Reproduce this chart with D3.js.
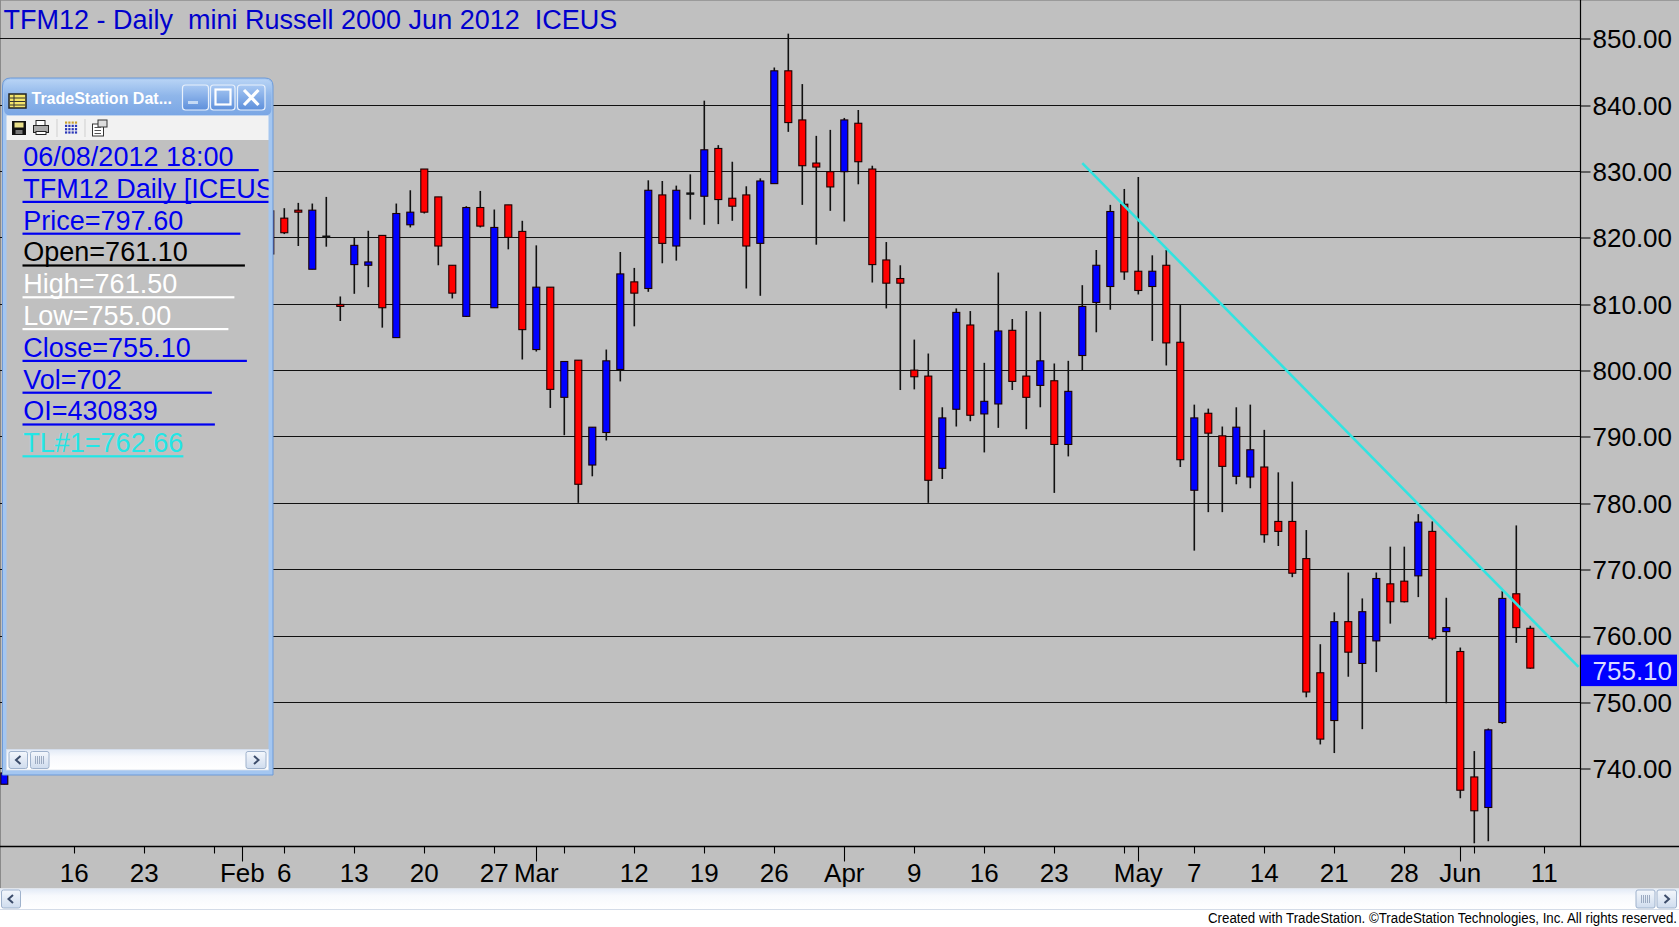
<!DOCTYPE html>
<html><head><meta charset="utf-8">
<script src="https://cdn.jsdelivr.net/npm/d3@7"></script>
<style>
html,body{margin:0;padding:0;background:#fff;overflow:hidden;}
text{font-family:"Liberation Sans",Arial,Helvetica,sans-serif;}
</style></head><body>
<svg id="chart" width="1679" height="927"></svg>
<script>
// ---------------- DATA ----------------
const titleText = "TFM12 - Daily  mini Russell 2000 Jun 2012  ICEUS";
const dates = ["2012-01-09","2012-02-03","2012-02-06","2012-02-07","2012-02-08","2012-02-09","2012-02-10",
"2012-02-13","2012-02-14","2012-02-15","2012-02-16","2012-02-17","2012-02-20","2012-02-21","2012-02-22","2012-02-23","2012-02-24",
"2012-02-27","2012-02-28","2012-02-29","2012-03-01","2012-03-02","2012-03-05","2012-03-06","2012-03-07","2012-03-08","2012-03-09",
"2012-03-12","2012-03-13","2012-03-14","2012-03-15","2012-03-16","2012-03-19","2012-03-20","2012-03-21","2012-03-22","2012-03-23",
"2012-03-26","2012-03-27","2012-03-28","2012-03-29","2012-03-30","2012-04-02","2012-04-03","2012-04-04","2012-04-05","2012-04-06",
"2012-04-09","2012-04-10","2012-04-11","2012-04-12","2012-04-13","2012-04-16","2012-04-17","2012-04-18","2012-04-19","2012-04-20",
"2012-04-23","2012-04-24","2012-04-25","2012-04-26","2012-04-27","2012-04-30","2012-05-01","2012-05-02","2012-05-03","2012-05-04",
"2012-05-07","2012-05-08","2012-05-09","2012-05-10","2012-05-11","2012-05-14","2012-05-15","2012-05-16","2012-05-17","2012-05-18",
"2012-05-21","2012-05-22","2012-05-23","2012-05-24","2012-05-25","2012-05-28","2012-05-29","2012-05-30","2012-05-31","2012-06-01",
"2012-06-04","2012-06-05","2012-06-06","2012-06-07","2012-06-08"];
const opens = [737.6,817.5,822.9,824.1,815.2,820.1,809.9,
815.9,815.8,820.3,804.9,821.9,830.3,826.1,815.8,808.1,824.5,
809.4,824.9,820.9,803.1,812.5,795.9,801.5,785.7,790.6,800.1,
813.3,812.3,826.4,818.7,826.6,826.2,833.4,825.9,826.4,819.1,
828.1,845.1,837.7,831.2,829.9,829.9,837.2,830.3,816.6,813.8,
800.0,799.1,785.2,794.1,806.8,793.4,794.9,806.0,799.1,797.7,
798.4,788.8,802.2,810.2,812.6,825.0,814.9,812.6,815.8,804.2,
781.9,793.5,790.1,784.0,783.9,785.4,777.2,777.2,771.6,754.4,
747.2,762.1,755.8,759.2,767.8,768.2,769.0,775.7,760.6,757.6,
738.7,734.1,746.9,766.3,761.1];
const highs = [739.5,824.6,824.4,825.2,825.1,826.1,811.1,
820.0,821.0,820.3,825.1,827.1,830.3,826.1,815.8,824.7,827.0,
824.2,824.9,822.5,818.8,812.5,801.3,801.5,791.4,803.1,817.8,
815.4,828.6,828.5,827.8,829.5,840.6,833.9,831.4,827.7,828.9,
845.6,850.7,843.1,835.3,836.2,838.0,839.2,830.8,819.3,815.8,
804.6,802.5,794.4,809.3,808.9,801.1,814.7,807.7,808.9,808.8,
801.0,801.4,812.8,818.1,824.9,827.3,829.1,817.3,818.1,809.8,
794.8,794.2,791.5,794.4,794.8,791.0,784.6,783.2,775.9,758.7,
763.5,769.5,765.6,769.5,773.4,773.4,778.3,777.2,765.7,758.2,
742.6,746.0,766.7,776.6,761.5];
const lows = [737.6,817.0,820.5,818.7,815.2,818.6,807.4,
811.5,812.5,806.4,804.9,821.5,823.6,815.8,810.8,808.0,821.5,
809.4,818.2,801.6,802.8,794.3,790.2,780.0,784.0,789.4,798.3,
806.6,811.8,816.1,816.5,822.7,821.9,822.0,822.5,812.3,811.2,
828.1,835.9,824.9,818.9,824.0,822.4,828.0,813.2,809.3,797.0,
797.1,780.0,783.6,791.5,792.3,787.6,791.3,797.0,791.1,794.4,
781.5,787.0,800.0,805.7,809.1,813.6,811.4,804.4,800.7,785.4,
772.8,778.6,778.6,782.8,782.2,774.0,773.5,768.8,750.7,743.6,
742.3,753.8,745.9,754.5,761.8,765.0,765.8,759.3,749.8,735.5,
728.7,729.0,746.7,758.9,755.0];
const closes = [739.3,824.0,820.7,823.8,824.1,820.1,809.6,
818.8,816.3,809.4,823.6,823.8,823.8,818.7,811.6,824.5,821.7,
821.5,820.0,806.1,812.5,797.1,801.3,782.8,791.4,801.4,814.5,
811.6,827.1,819.1,827.1,826.6,833.2,825.7,824.7,818.7,828.5,
845.1,837.3,830.8,830.6,827.6,837.7,831.4,815.9,813.1,813.1,
799.0,783.4,792.8,808.7,793.2,795.3,805.9,798.3,795.9,801.4,
788.8,796.8,809.6,815.8,823.9,814.8,812.0,814.9,804.1,786.5,
792.8,790.5,785.5,791.4,788.0,775.2,775.7,769.4,751.5,744.4,
762.1,757.5,763.6,768.6,765.1,765.1,777.1,759.6,761.2,736.7,
733.6,745.8,765.6,761.2,755.1];

const priceTicks = [740,750,760,770,780,790,800,810,820,830,840,850];
const weekTickDates = ["2012-01-16","2012-01-23","2012-01-30","2012-02-06","2012-02-13","2012-02-20","2012-02-27",
"2012-03-05","2012-03-12","2012-03-19","2012-03-26","2012-04-09","2012-04-16","2012-04-23","2012-04-30",
"2012-05-07","2012-05-14","2012-05-21","2012-05-28","2012-06-04","2012-06-11"];
const weekTickLabels = ["16","23","","6","13","20","27","","12","19","26","9","16","23","","7","14","21","28","","11"];
const monthTickDates = ["2012-02-01","2012-03-01","2012-04-02","2012-05-01","2012-06-01"];
const monthTickLabels = ["Feb","Mar","Apr","May","Jun"];

const trendDates = ["2012-04-25","2012-06-08"];
const trendValues = [831.2, 762.66];
const lastClose = 755.10;

const dwTitle = "TradeStation Dat...";
const dwRows = ["06/08/2012 18:00","TFM12 Daily [ICEUS]","Price=797.60","Open=761.10","High=761.50",
"Low=755.00","Close=755.10","Vol=702","OI=430839","TL#1=762.66"];
const dwColors = ["#0000f0","#0000f0","#0000f0","#000000","#ffffff","#ffffff","#0000f0","#0000f0","#0000f0","#22e6e6"];
const dwUnderlinePad = [25,60,57,57,57,57,56,90,57,0];
const copyright = "Created with TradeStation. \u00A9TradeStation Technologies, Inc. All rights reserved.";

// ---------------- LAYOUT ----------------
const W = 1679, H = 927;
const axisX = 1580.5, plotBottom = 846.5;
const svg = d3.select("#chart");
const fmt = d3.timeFormat("%Y-%m-%d");

const allDays = d3.timeDay.range(new Date(2012,0,9), new Date(2012,5,16))
  .filter(d => d.getDay() !== 0 && d.getDay() !== 6).map(fmt);
const barStep = 14;
const x = d3.scalePoint().domain(allDays).range([4.3, 4.3 + barStep*(allDays.length-1)]);
const y = d3.scaleLinear().domain([728.22, 855.77]).range([plotBottom, 0]);

const candles = dates.map((d,i)=>({date:d,o:opens[i],h:highs[i],l:lows[i],c:closes[i]}));

// background panel
svg.append("rect").attr("x",0).attr("y",0).attr("width",W).attr("height",H).attr("fill","#ffffff");
svg.append("rect").attr("x",0).attr("y",0).attr("width",W).attr("height",888.5).attr("fill","#c0c0c0");
svg.append("line").attr("x1",0).attr("x2",W).attr("y1",0.5).attr("y2",0.5).attr("stroke","#9a9a9a");
svg.append("line").attr("x1",0.5).attr("x2",0.5).attr("y1",0).attr("y2",888).attr("stroke","#8a8a8a");

// gridlines
svg.append("g").selectAll("line").data(priceTicks).join("line")
  .attr("x1",0).attr("x2",axisX)
  .attr("y1",d=>Math.round(y(d))+0.5).attr("y2",d=>Math.round(y(d))+0.5)
  .attr("stroke","#101010").attr("stroke-width",1.1);

// right axis
const yAxis = d3.axisRight(y).tickValues(priceTicks).tickSize(10).tickPadding(2).tickFormat(d3.format(".2f"));
const ga = svg.append("g").attr("transform",`translate(${axisX},0)`).call(yAxis);
ga.select(".domain").remove();
ga.selectAll(".tick line").attr("stroke","#101010").attr("stroke-width",1.1)
  .attr("transform",d=>`translate(0,${Math.round(y(d))+0.5-y(d)})`);
ga.selectAll(".tick text").attr("font-size",26).attr("fill","#000")
  .attr("font-family","'Liberation Sans',Arial,sans-serif").attr("dy","0.36em");

// axis lines
svg.append("line").attr("x1",axisX).attr("x2",axisX).attr("y1",0).attr("y2",plotBottom).attr("stroke","#000").attr("stroke-width",1.2);
svg.append("line").attr("x1",0).attr("x2",W).attr("y1",plotBottom).attr("y2",plotBottom).attr("stroke","#000").attr("stroke-width",1.4);

// x ticks
const weeks = weekTickDates.map((d,i)=>({d,l:weekTickLabels[i]}));
const months = monthTickDates.map((d,i)=>({d,l:monthTickLabels[i]}));
const gx = svg.append("g");
gx.selectAll("line.w").data(weeks).join("line").attr("class","w")
  .attr("x1",d=>Math.round(x(d.d))+0.5).attr("x2",d=>Math.round(x(d.d))+0.5)
  .attr("y1",plotBottom).attr("y2",plotBottom+7).attr("stroke","#000").attr("stroke-width",1.1);
gx.selectAll("line.m").data(months).join("line").attr("class","m")
  .attr("x1",d=>Math.round(x(d.d))+0.5).attr("x2",d=>Math.round(x(d.d))+0.5)
  .attr("y1",plotBottom).attr("y2",plotBottom+15).attr("stroke","#000").attr("stroke-width",1.1);
gx.selectAll("text.w").data(weeks.filter(d=>d.l!=="")).join("text").attr("class","w")
  .attr("x",d=>x(d.d)).attr("y",881.5).attr("text-anchor","middle").attr("font-size",26).attr("fill","#000").text(d=>d.l);
gx.selectAll("text.m").data(months).join("text").attr("class","m")
  .attr("x",d=>x(d.d)).attr("y",881.5).attr("text-anchor","middle").attr("font-size",26).attr("fill","#000").text(d=>d.l);

// candles
svg.append("clipPath").attr("id","plotclip").append("rect").attr("x",0).attr("y",0).attr("width",axisX).attr("height",plotBottom);
const gc = svg.append("g").attr("clip-path","url(#plotclip)");
const cg = gc.selectAll("g.c").data(candles).join("g").attr("class","c");
cg.append("line")
  .attr("x1",d=>x(d.date)).attr("x2",d=>x(d.date))
  .attr("y1",d=>y(d.h)).attr("y2",d=>y(d.l)).attr("stroke","#111").attr("stroke-width",1.6);
cg.filter(d=>d.o!==d.c).append("rect")
  .attr("x",d=>x(d.date)-3.5).attr("width",7)
  .attr("y",d=>y(Math.max(d.o,d.c))).attr("height",d=>Math.max(1,Math.abs(y(d.o)-y(d.c))))
  .attr("fill",d=>d.c>d.o?"#0000ff":"#ff0000").attr("stroke","#1a0000").attr("stroke-width",1.1);
cg.filter(d=>d.o===d.c).append("rect")
  .attr("x",d=>x(d.date)-4).attr("width",8).attr("y",d=>y(d.o)-1.2).attr("height",2.4).attr("fill","#111");

// trendline
const tx0 = x(trendDates[0]), tx1 = x(trendDates[1]);
const slope = (trendValues[1]-trendValues[0])/(tx1-tx0);
const txEnd = axisX - 2;
gc.append("line").attr("x1",tx0).attr("y1",y(trendValues[0]))
  .attr("x2",txEnd).attr("y2",y(trendValues[0]+slope*(txEnd-tx0)))
  .attr("stroke","#33e3e0").attr("stroke-width",2.6);

// last price marker
svg.append("rect").attr("x",axisX+0.5).attr("y",y(lastClose)-13.5).attr("width",W-axisX-2.5).attr("height",31.5).attr("fill","#0000ff");
svg.append("text").attr("x",1592.5).attr("y",y(lastClose)+11.5).attr("font-size",26).attr("fill","#dcdcff").text(d3.format(".2f")(lastClose));

// title
svg.append("text").attr("x",3.5).attr("y",28.5).attr("font-size",27).attr("fill","#0000cd")
  .style("white-space","pre").text(titleText);

// ---------------- DATA WINDOW ----------------
const dw = svg.append("g");
const defs = svg.append("defs");
const tg = defs.append("linearGradient").attr("id","tbar").attr("x1",0).attr("y1",0).attr("x2",0).attr("y2",1);
tg.append("stop").attr("offset","0%").attr("stop-color","#b7d3f5");
tg.append("stop").attr("offset","45%").attr("stop-color","#8fb6ea");
tg.append("stop").attr("offset","100%").attr("stop-color","#7aa6e4");
const bg = defs.append("linearGradient").attr("id","btn").attr("x1",0).attr("y1",0).attr("x2",0).attr("y2",1);
bg.append("stop").attr("offset","0%").attr("stop-color","#a9c9f3");
bg.append("stop").attr("offset","100%").attr("stop-color","#5d8fdb");
const sg = defs.append("linearGradient").attr("id","sbar").attr("x1",0).attr("y1",0).attr("x2",0).attr("y2",1);
sg.append("stop").attr("offset","0%").attr("stop-color","#e2eaf6");
sg.append("stop").attr("offset","35%").attr("stop-color","#f7f9fd");
sg.append("stop").attr("offset","100%").attr("stop-color","#ffffff");
const sbg = defs.append("linearGradient").attr("id","sbtn").attr("x1",0).attr("y1",0).attr("x2",0).attr("y2",1);
sbg.append("stop").attr("offset","0%").attr("stop-color","#f4f7fc");
sbg.append("stop").attr("offset","100%").attr("stop-color","#cfdcee");

// frame
dw.append("path").attr("d","M2.5,775 L2.5,86 Q2.5,78 10.5,78 L265,78 Q273,78 273,86 L273,775 Z")
  .attr("fill","#a4c6f0").attr("stroke","#6d9ad8").attr("stroke-width",1);
dw.append("rect").attr("x",4).attr("y",79.5).attr("width",267.5).attr("height",36).attr("rx",6).attr("fill","url(#tbar)");
// title icon
dw.append("rect").attr("x",9).attr("y",94).attr("width",17).attr("height",14).attr("fill","#f3e46a").attr("stroke","#222").attr("stroke-width",1.5);
[98,101.5,105].forEach(yy=>dw.append("line").attr("x1",10).attr("x2",25).attr("y1",yy).attr("y2",yy).attr("stroke","#333").attr("stroke-width",1));
dw.append("line").attr("x1",14).attr("x2",14).attr("y1",95).attr("y2",107).attr("stroke","#333");
dw.append("text").attr("x",31.5).attr("y",104).attr("font-size",16).attr("font-weight","bold").attr("fill","#fff")
  .text(dwTitle);
// buttons
[[182.5,208.5],[210.5,235],[237.5,265]].forEach(([a,b])=>{
  dw.append("rect").attr("x",a).attr("y",85).attr("width",b-a).attr("height",25).attr("rx",3)
    .attr("fill","url(#btn)").attr("stroke","#e8f0fb").attr("stroke-width",1.2);
});
dw.append("rect").attr("x",188).attr("y",101).attr("width",10).attr("height",3).attr("fill","#c5daf5");
dw.append("rect").attr("x",215.5).attr("y",89.5).attr("width",15).attr("height",15).attr("fill","none").attr("stroke","#fff").attr("stroke-width",2.2);
dw.append("path").attr("d","M244,90 L258.5,105 M258.5,90 L244,105").attr("stroke","#fff").attr("stroke-width",3.2);
// toolbar
dw.append("rect").attr("x",6.5).attr("y",115.5).attr("width",262).attr("height",24.5).attr("fill","#f2f2f2");
dw.append("rect").attr("x",12).attr("y",121).attr("width",14).attr("height",14).attr("fill","#111");
dw.append("rect").attr("x",14.5).attr("y",122.5).attr("width",9).attr("height",5).attr("fill","#e9e08a");
dw.append("rect").attr("x",15.5).attr("y",130).attr("width",7).attr("height",4).attr("fill","#777");
dw.append("rect").attr("x",36).attr("y",120.5).attr("width",9).attr("height",5).attr("fill","#fff").attr("stroke","#222");
dw.append("rect").attr("x",33.5).attr("y",125.5).attr("width",15).attr("height",7).attr("fill","#aaa").attr("stroke","#222");
dw.append("rect").attr("x",36).attr("y",131.5).attr("width",10).attr("height",3).attr("fill","#fff").attr("stroke","#222");
dw.append("line").attr("x1",57).attr("x2",57).attr("y1",119).attr("y2",137).attr("stroke","#cfcfcf");
for(let r=0;r<4;r++)for(let c=0;c<4;c++)
  dw.append("rect").attr("x",65+c*3.3).attr("y",121.5+r*3.3).attr("width",2.2).attr("height",2.2).attr("fill",r===0?"#c8a030":"#2a36b8");
dw.append("line").attr("x1",85).attr("x2",85).attr("y1",119).attr("y2",137).attr("stroke","#cfcfcf");
dw.append("rect").attr("x",92.5).attr("y",124).attr("width",11).attr("height",12).attr("fill","#fff").attr("stroke","#333");
dw.append("rect").attr("x",98).attr("y",120).attr("width",9).attr("height",7).attr("fill","#ddd").attr("stroke","#333");
[127.5,130.5,133.5].forEach(yy=>dw.append("line").attr("x1",94.5).attr("x2",101).attr("y1",yy).attr("y2",yy).attr("stroke","#555"));
// content
dw.append("rect").attr("x",6.5).attr("y",140).attr("width",262).attr("height",609.5).attr("fill","#c0c0c0");
dw.append("clipPath").attr("id","dwclip").append("rect").attr("x",6.5).attr("y",140).attr("width",262).attr("height",609);
const rows = dw.append("g").attr("clip-path","url(#dwclip)");
dwRows.forEach((t,i)=>{
  const by = 166 + i*31.8;
  const tx = rows.append("text").attr("x",23.3).attr("y",by).attr("font-size",27).attr("fill",dwColors[i]).text(t);
  const w = tx.node().getComputedTextLength();
  rows.append("rect").attr("x",22.5).attr("y",by+3).attr("width",w+dwUnderlinePad[i]+1).attr("height",2.2).attr("fill",dwColors[i]);
});
// data window scrollbar
dw.append("rect").attr("x",6.5).attr("y",749.5).attr("width",262).attr("height",20.5).attr("fill","url(#sbar)").attr("stroke","#d6dfeb").attr("stroke-width",0.8);
[[9,27.5],[246,266]].forEach(([a,b])=>dw.append("rect").attr("x",a).attr("y",751.5).attr("width",b-a).attr("height",17).attr("rx",2)
  .attr("fill","url(#sbtn)").attr("stroke","#9fb2cc"));
dw.append("rect").attr("x",30.5).attr("y",751.5).attr("width",18.5).attr("height",17).attr("rx",2).attr("fill","url(#sbtn)").attr("stroke","#9fb2cc");
dw.append("path").attr("d","M20.5,756 L16,760 L20.5,764").attr("fill","none").attr("stroke","#3c4c6a").attr("stroke-width",2);
dw.append("path").attr("d","M254,756 L258.5,760 L254,764").attr("fill","none").attr("stroke","#3c4c6a").attr("stroke-width",2);
[35.5,37.5,39.5,41.5,43.5].forEach(xx=>dw.append("line").attr("x1",xx).attr("x2",xx).attr("y1",756).attr("y2",764).attr("stroke","#8a9ab4").attr("stroke-width",0.8));

// ---------------- MAIN SCROLLBAR ----------------
svg.append("rect").attr("x",0).attr("y",888.5).attr("width",W).attr("height",20.5).attr("fill","url(#sbar)");
svg.append("line").attr("x1",0).attr("x2",W).attr("y1",909.5).attr("y2",909.5).attr("stroke","#d4dce8");
svg.append("rect").attr("x",1.5).attr("y",890).attr("width",19).attr("height",18).attr("rx",2).attr("fill","url(#sbtn)").attr("stroke","#9fb2cc");
svg.append("path").attr("d","M13,895 L8.5,899 L13,903").attr("fill","none").attr("stroke","#3c4c6a").attr("stroke-width",2);
svg.append("rect").attr("x",1636).attr("y",890).attr("width",19).attr("height",18).attr("rx",2).attr("fill","url(#sbtn)").attr("stroke","#9fb2cc");
[1641.5,1643.5,1645.5,1647.5,1649.5].forEach(xx=>svg.append("line").attr("x1",xx).attr("x2",xx).attr("y1",895).attr("y2",903).attr("stroke","#8a9ab4").attr("stroke-width",0.8));
svg.append("rect").attr("x",1657).attr("y",890).attr("width",19.5).attr("height",18).attr("rx",2).attr("fill","url(#sbtn)").attr("stroke","#9fb2cc");
svg.append("path").attr("d","M1664.5,895 L1669,899 L1664.5,903").attr("fill","none").attr("stroke","#3c4c6a").attr("stroke-width",2);

// copyright
svg.append("text").attr("x",1208).attr("y",922.5).attr("font-size",14).attr("fill","#000")
  .attr("textLength",469).attr("lengthAdjust","spacingAndGlyphs").text(copyright);
</script>
</body></html>
